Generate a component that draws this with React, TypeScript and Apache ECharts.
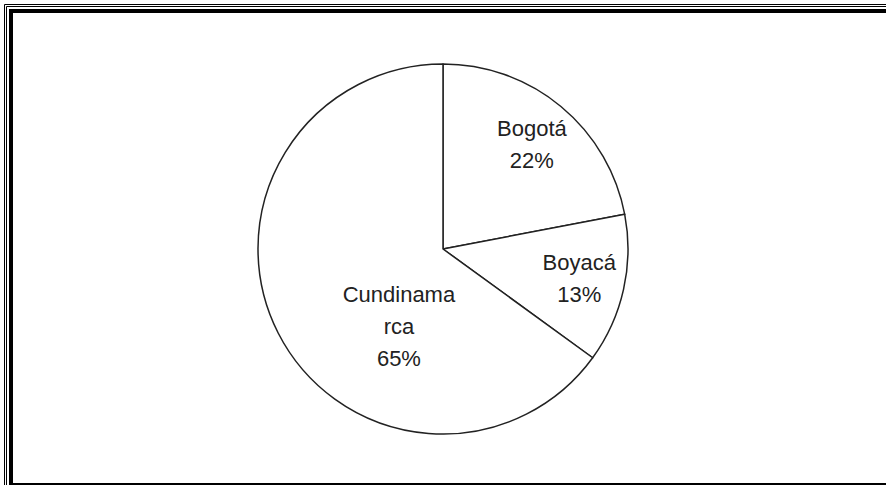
import React, { useEffect, useRef } from "react";
import * as echarts from "echarts";

const categories = ["Bogotá", "Boyacá", "Cundinamarca"];
const labelTexts = ["Bogotá", "Boyacá", "Cundinama\nrca"];
const values = [22, 13, 65];

// label offsets (styling only)
const labelOffsets = [
  [28, -31],
  [43, 9],
  [41, 34],
];

export default function App() {
  const ref = useRef<HTMLDivElement>(null);
  useEffect(() => {
    if (!ref.current) return;
    const chart = echarts.init(ref.current, null, { renderer: "svg" });
    chart.setOption({
      animation: false,
      backgroundColor: "#ffffff",
      graphic: [
        { type: "line", shape: { x1: 4.5, y1: 4.5, x2: 4.5, y2: 485 }, style: { stroke: "#000", lineWidth: 1 } },
        { type: "line", shape: { x1: 4.5, y1: 4.5, x2: 886, y2: 4.5 }, style: { stroke: "#000", lineWidth: 1 } },
        { type: "line", shape: { x1: 6.5, y1: 6.5, x2: 6.5, y2: 485 }, style: { stroke: "#000", lineWidth: 1 } },
        { type: "line", shape: { x1: 6.5, y1: 6.5, x2: 886, y2: 6.5 }, style: { stroke: "#000", lineWidth: 1 } },
        { type: "rect", shape: { x: 11, y: 11, width: 890, height: 474 }, style: { fill: "none", stroke: "#000", lineWidth: 4 } },
      ],
      series: [
        {
          type: "pie",
          center: [443, 249],
          radius: [0, 185],
          startAngle: 90,
          clockwise: true,
          avoidLabelOverlap: false,
          itemStyle: { color: "#ffffff", borderColor: "#222", borderWidth: 1.5 },
          emphasis: { disabled: true },
          label: {
            show: true,
            position: "inside",
            color: "#222",
            fontFamily: "Liberation Sans, Arial, sans-serif",
            fontSize: 22,
            lineHeight: 32,
            align: "center",
            formatter: (p: any) => `${labelTexts[p.dataIndex]}\n${p.percent}%`,
          },
          labelLine: { show: false },
          labelLayout: (p: any) => ({ dx: labelOffsets[p.dataIndex][0], dy: labelOffsets[p.dataIndex][1] }),
          data: categories.map((c, i) => ({ name: c, value: values[i] })),
        },
      ],
    });
    return () => chart.dispose();
  }, []);
  return <div ref={ref} style={{ position: "absolute", left: 0, top: 0, width: 886, height: 485 }} />;
}
